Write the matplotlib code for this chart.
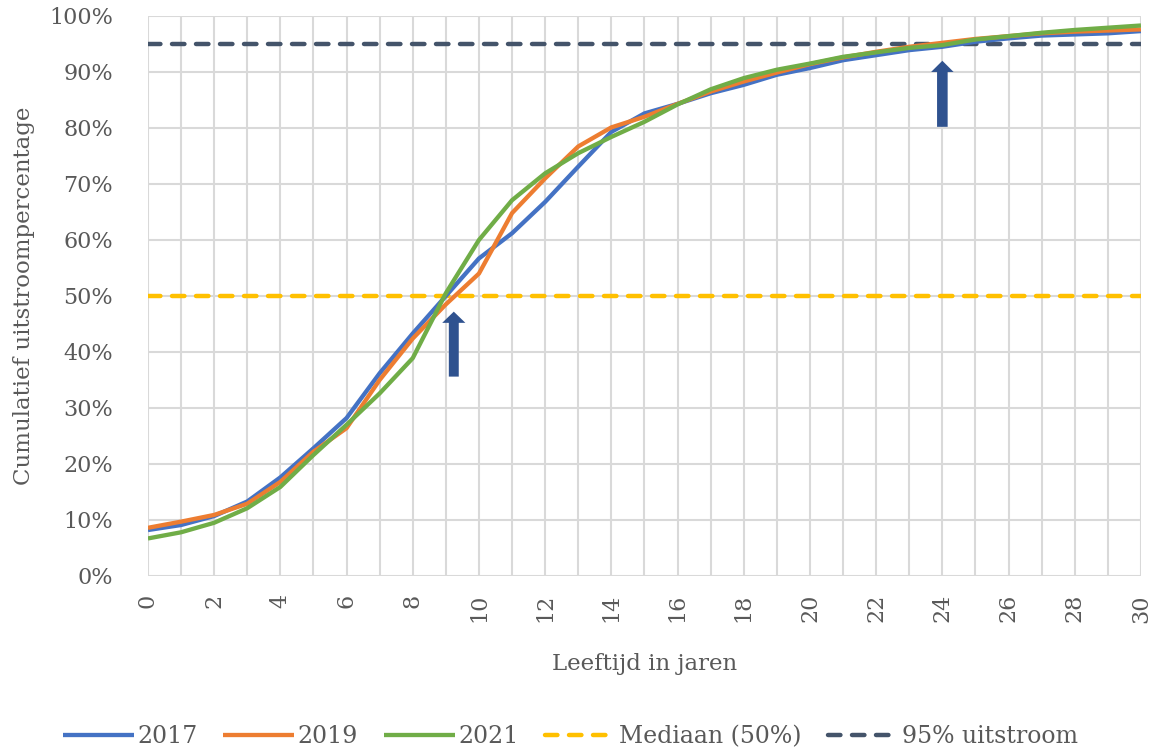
import matplotlib
matplotlib.use("Agg")
import matplotlib.pyplot as plt
from matplotlib.ticker import FuncFormatter, MultipleLocator

# Cumulative outflow share per age, three cohorts
ages = list(range(31))
uitstroom_2017 = [0.082, 0.091, 0.107, 0.133, 0.176, 0.228, 0.282, 0.362, 0.433, 0.500,
                  0.567, 0.612, 0.668, 0.731, 0.793, 0.826, 0.843, 0.862, 0.877, 0.895,
                  0.907, 0.921, 0.930, 0.939, 0.945, 0.954, 0.960, 0.965, 0.967, 0.969, 0.973]
uitstroom_2019 = [0.086, 0.097, 0.109, 0.129, 0.168, 0.222, 0.264, 0.350, 0.424, 0.485,
                  0.540, 0.648, 0.710, 0.767, 0.801, 0.820, 0.843, 0.865, 0.883, 0.899,
                  0.914, 0.926, 0.936, 0.945, 0.952, 0.959, 0.964, 0.969, 0.972, 0.974, 0.976]
uitstroom_2021 = [0.067, 0.078, 0.095, 0.121, 0.159, 0.216, 0.270, 0.326, 0.389, 0.505,
                  0.600, 0.671, 0.719, 0.755, 0.784, 0.811, 0.842, 0.869, 0.889, 0.904,
                  0.915, 0.927, 0.935, 0.943, 0.948, 0.958, 0.964, 0.970, 0.975, 0.979, 0.983]
series_labels = ["2017", "2019", "2021"]

mediaan = 0.50
p95 = 0.95
# ages where the 2017 curve reaches the median and the 95% level
arrow_ages = [9.24, 24.0]

COLORS = ["#4472C4", "#ED7D31", "#70AD47"]
MEDIAN_COLOR = "#FFC000"
P95_COLOR = "#44546A"
ARROW_COLOR = "#2F528F"
GRID_COLOR = "#D9D9D9"
TEXT_COLOR = "#595959"

plt.rcParams["font.family"] = ["DejaVu Serif"]

fig = plt.figure(figsize=(11.64, 7.53), dpi=100)
ax = fig.add_axes([0.1271, 0.2351, 0.8531, 0.7437])

for vals, lab, col in zip([uitstroom_2017, uitstroom_2019, uitstroom_2021], series_labels, COLORS):
    ax.plot(ages, vals, color=col, lw=3.1, label=lab, zorder=3, solid_capstyle="butt")

dash = (0, (2.8, 2.6))
ax.axhline(mediaan, color=MEDIAN_COLOR, lw=3.2, ls=dash, dash_capstyle="round",
           label="Mediaan (50%)", zorder=2)
ax.axhline(p95, color=P95_COLOR, lw=3.2, ls=dash, dash_capstyle="round",
           label="95% uitstroom", zorder=2)

# upward block arrows pointing at the crossings
ax.arrow(arrow_ages[0], 0.356, 0, 0.116, width=0.30, head_width=0.70, head_length=0.020,
         length_includes_head=True, color=ARROW_COLOR, lw=0, zorder=4)
ax.arrow(arrow_ages[1], 0.802, 0, 0.118, width=0.32, head_width=0.68, head_length=0.020,
         length_includes_head=True, color=ARROW_COLOR, lw=0, zorder=4)

ax.set_xlim(0, 30)
ax.set_ylim(0, 1.0)
ax.xaxis.set_major_locator(MultipleLocator(2))
ax.xaxis.set_minor_locator(MultipleLocator(1))
ax.yaxis.set_major_locator(MultipleLocator(0.1))
ax.yaxis.set_major_formatter(FuncFormatter(lambda v, p: f"{v * 100:.0f}%"))

ax.grid(True, which="both", axis="x", color=GRID_COLOR, lw=1.5, zorder=0)
ax.grid(True, which="major", axis="y", color=GRID_COLOR, lw=1.5, zorder=0)
ax.set_axisbelow(True)
for s in ax.spines.values():
    s.set_visible(False)

ax.tick_params(axis="both", which="both", length=0, colors=TEXT_COLOR, labelsize=16)
ax.tick_params(axis="x", pad=13)
ax.tick_params(axis="y", pad=25)
for t in ax.get_xticklabels():
    t.set_rotation(90)

ax.set_xlabel("Leeftijd in jaren", fontsize=16.5, color=TEXT_COLOR, labelpad=22)
ax.set_ylabel("Cumulatief uitstroompercentage", fontsize=16.5, color=TEXT_COLOR, labelpad=10)

fig.legend(loc="lower center", bbox_to_anchor=(0.49, -0.022), ncol=5, frameon=False,
           fontsize=17, labelcolor=TEXT_COLOR, handlelength=3.0, handletextpad=0.15,
           columnspacing=1.1)

fig.savefig("out.png", dpi=100, facecolor="white")
